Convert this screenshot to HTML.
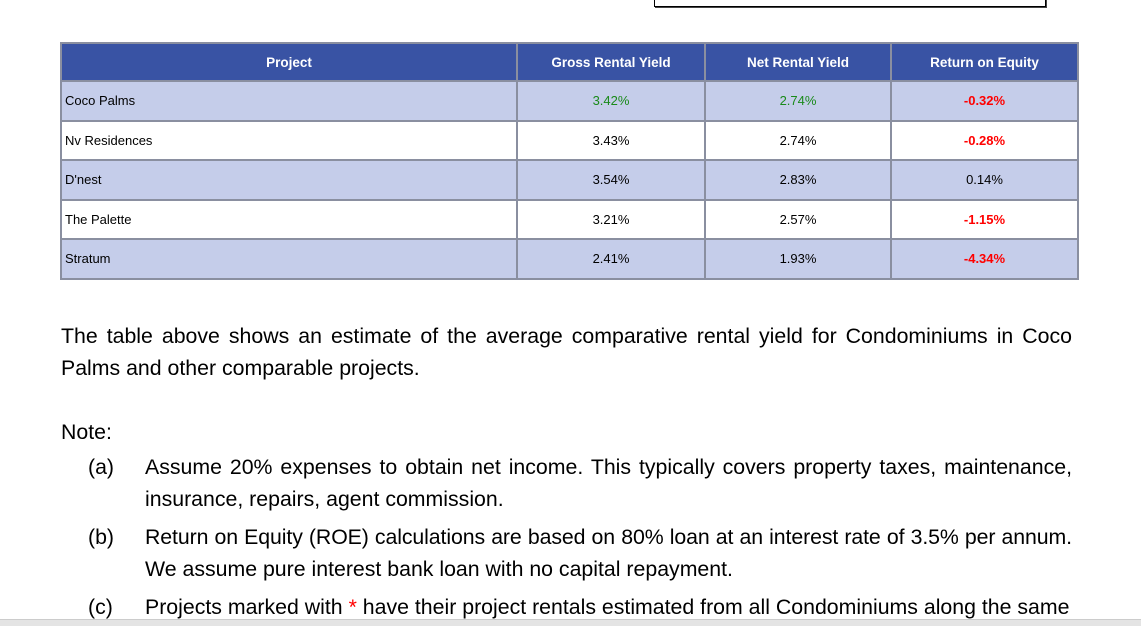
<!DOCTYPE html>
<html><head><meta charset="utf-8"><style>
body{margin:0;width:1141px;height:625px;overflow:hidden;background:#fff;position:relative;font-family:"Liberation Sans",Arial,sans-serif}
.abs{position:absolute}
table{position:absolute;left:60px;top:42px;width:1017px;border-collapse:collapse;table-layout:fixed;font-size:13px}
td,th{border:2px solid #8a8fa0;height:37.5px;padding:0 4px;text-align:center}
th{background:#3953a4;color:#fff;font-weight:bold;font-size:13.5px;height:36px}
tr.b td{background:#c5cdea}
td.n{text-align:left;padding-left:3px}
.g{color:#1a8a1a}.r{color:#f00;font-weight:bold}
.p{position:absolute;left:61px;width:1011px;font-size:21.3px;line-height:32px;text-align:justify;color:#000}
.item{position:absolute;left:88px;width:984px;font-size:21.3px;line-height:32px;color:#000}
.item .l{position:absolute;left:0;top:0}
.item .t{margin-left:57px;text-align:justify;text-align-last:left}
.item .t.j{text-align-last:justify;white-space:nowrap}
</style></head><body>
<div class="abs" style="left:654px;top:-2px;width:390px;height:8px;border:1px solid #000;border-top:none;box-shadow:1px 1px 0 #444"></div>
<table>
<colgroup><col style="width:456px"><col style="width:188px"><col style="width:186px"><col style="width:187px"></colgroup>
<tr><th>Project</th><th>Gross Rental Yield</th><th>Net Rental Yield</th><th>Return on Equity</th></tr>
<tr class="b"><td class="n">Coco Palms</td><td class="g">3.42%</td><td class="g">2.74%</td><td class="r">-0.32%</td></tr>
<tr><td class="n">Nv Residences</td><td>3.43%</td><td>2.74%</td><td class="r">-0.28%</td></tr>
<tr class="b"><td class="n">D'nest</td><td>3.54%</td><td>2.83%</td><td>0.14%</td></tr>
<tr><td class="n">The Palette</td><td>3.21%</td><td>2.57%</td><td class="r">-1.15%</td></tr>
<tr class="b"><td class="n">Stratum</td><td>2.41%</td><td>1.93%</td><td class="r">-4.34%</td></tr>
</table>
<div class="p" style="top:320px">The table above shows an estimate of the average comparative rental yield for Condominiums in Coco Palms and other comparable projects.</div>
<div class="p" style="top:416px">Note:</div>
<div class="item" style="top:451px"><span class="l">(a)</span><div class="t">Assume 20% expenses to obtain net income. This typically covers property taxes, maintenance, insurance, repairs, agent commission.</div></div>
<div class="item" style="top:521px"><span class="l">(b)</span><div class="t j" style="letter-spacing:-0.1px">Return on Equity (ROE) calculations are based on 80% loan at an interest rate of 3.5% per annum.</div><div class="t">We assume pure interest bank loan with no capital repayment.</div></div>
<div class="item" style="top:591px"><span class="l">(c)</span><div class="t" style="white-space:nowrap">Projects marked with <span style="color:#f00">*</span> have their project rentals estimated from all Condominiums along the same</div></div>
<div class="abs" style="left:0;top:619px;width:1141px;height:6px;background:#e4e4e4;border-top:1px solid #ccc"></div>
</body></html>
